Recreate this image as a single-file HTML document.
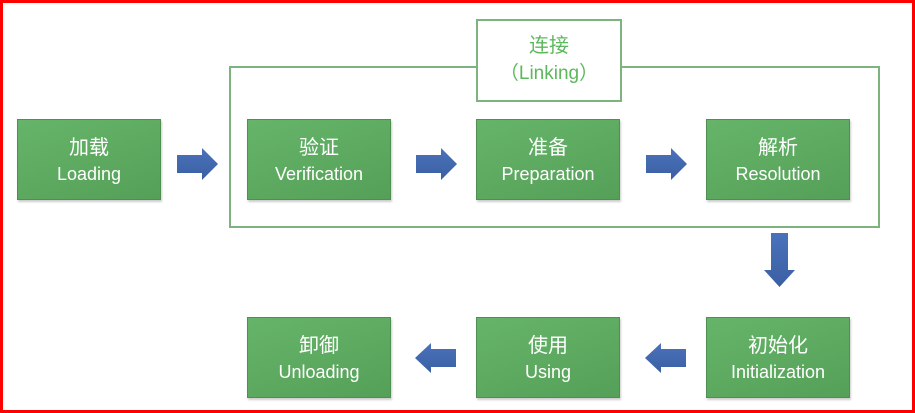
<!DOCTYPE html>
<html><head><meta charset="utf-8"><style>
body{margin:0;width:915px;height:413px;overflow:hidden;background:#fff;font-family:"Liberation Sans","Noto Sans CJK SC",sans-serif}
.frame{position:absolute;left:0;top:0;width:909px;height:407px;border:3px solid #f00}
.b{position:absolute;width:144px;height:81px;background:linear-gradient(160deg,#66b46a,#55a058);border:1px solid #4f8f52;box-shadow:1px 2px 2px rgba(0,0,0,.2);color:#fff;text-align:center;box-sizing:border-box}
.b .c{font-size:20px;margin-top:15px;line-height:26px}
.b .e{font-size:18px;line-height:26px}
.out{position:absolute;left:229px;top:66px;width:651px;height:162px;border:2px solid #7cb37e;box-sizing:border-box}
.lab{position:absolute;left:476px;top:19px;width:146px;height:83px;border:2px solid #7cb37e;background:#fff;box-sizing:border-box;text-align:center;color:#5cb85c}
svg{position:absolute;left:0;top:0}
</style></head><body>
<div class="frame"></div>
<div class="out"></div>
<div class="lab"><div style="font-size:20px;margin-top:12px;line-height:26px">连接</div><div style="font-size:19px;line-height:30px">（Linking）</div></div>
<div class="b" style="left:17px;top:119px"><div class="c">加载</div><div class="e">Loading</div></div>
<div class="b" style="left:247px;top:119px"><div class="c">验证</div><div class="e">Verification</div></div>
<div class="b" style="left:476px;top:119px"><div class="c">准备</div><div class="e">Preparation</div></div>
<div class="b" style="left:706px;top:119px"><div class="c">解析</div><div class="e">Resolution</div></div>
<div class="b" style="left:247px;top:317px"><div class="c">卸御</div><div class="e">Unloading</div></div>
<div class="b" style="left:476px;top:317px"><div class="c">使用</div><div class="e">Using</div></div>
<div class="b" style="left:706px;top:317px"><div class="c">初始化</div><div class="e">Initialization</div></div>
<svg width="915" height="413">
<defs><linearGradient id="g" x1="0" y1="0" x2="0" y2="1"><stop offset="0" stop-color="#4a72bb"/><stop offset="1" stop-color="#3b5fa3"/></linearGradient></defs>
<g fill="url(#g)">
<polygon points="177,155 202,155 202,148 218,164 202,180 202,173 177,173"/>
<polygon points="416,155 441,155 441,148 457,164 441,180 441,173 416,173"/>
<polygon points="646,155 671,155 671,148 687,164 671,180 671,173 646,173"/>
<polygon points="771,233 788,233 788,270 795,270 779.5,287 764,270 771,270"/>
<polygon points="686,349 661,349 661,343 645,358 661,373 661,367 686,367"/>
<polygon points="456,349 431,349 431,343 415,358 431,373 431,367 456,367"/>
</g></svg>
</body></html>
